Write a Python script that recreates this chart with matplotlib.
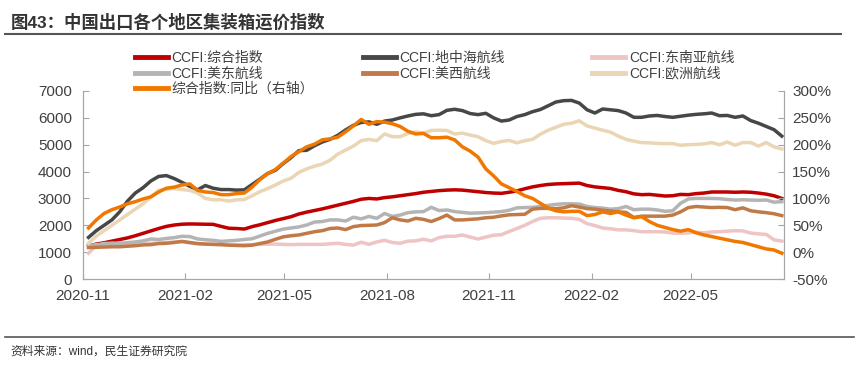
import numpy as np
import pandas as pd
import matplotlib
matplotlib.use('Agg')
import matplotlib.pyplot as plt
import matplotlib.dates as mdates
from matplotlib.ticker import FuncFormatter

plt.rcParams['font.family'] = ['Liberation Sans', 'Noto Sans CJK SC']
plt.rcParams['axes.unicode_minus'] = False

# 周度数据 2020-11-06 ~ 2022-07-22
dates = pd.date_range('2020-11-06', periods=90, freq='7D')

ccfi_all = [1230, 1300, 1350, 1410, 1470, 1530, 1610, 1700, 1790, 1880,
            1960, 2010, 2040, 2050, 2045, 2040, 2035, 1960, 1890, 1880,
            1860, 1950, 2020, 2100, 2180, 2250, 2320, 2420, 2490, 2550,
            2610, 2680, 2750, 2820, 2890, 2970, 3000, 2980, 3030, 3060,
            3100, 3140, 3180, 3230, 3260, 3290, 3310, 3320, 3310, 3280,
            3250, 3220, 3200, 3190, 3230, 3280, 3360, 3430, 3480, 3520,
            3540, 3550, 3560, 3570, 3480, 3430, 3400, 3370, 3300, 3250,
            3170, 3140, 3150, 3120, 3090, 3100, 3150, 3140, 3180, 3200,
            3240, 3240, 3240, 3230, 3240, 3230, 3200, 3160, 3100, 3000]

ccfi_med = [1550, 1800, 2000, 2200, 2500, 2900, 3200, 3400, 3650, 3820,
            3850, 3740, 3600, 3450, 3320, 3480, 3380, 3330, 3330, 3310,
            3320, 3520, 3720, 3930, 4050, 4300, 4520, 4780, 4790, 4960,
            5100, 5200, 5350, 5550, 5720, 5830, 5850, 5760, 5880, 5920,
            6000, 6070, 6130, 6150, 6080, 6120, 6280, 6320, 6270, 6160,
            6120, 6170, 6000, 5880, 5920, 6050, 6120, 6230, 6310, 6450,
            6590, 6640, 6650, 6550, 6300, 6180, 6330, 6300, 6270, 6180,
            6020, 6020, 6070, 6090, 6050, 6020, 6060, 6100, 6130, 6150,
            6180, 6080, 6090, 6020, 6070, 5900, 5800, 5680, 5560, 5320]

ccfi_sea = [960, 1250, 1320, 1330, 1320, 1330, 1330, 1340, 1330, 1340,
            1360, 1380, 1390, 1340, 1310, 1300, 1290, 1280, 1280, 1270,
            1280, 1280, 1290, 1300, 1300, 1290, 1280, 1290, 1290, 1290,
            1290, 1310, 1330, 1290, 1260, 1370, 1290, 1380, 1440, 1360,
            1330, 1410, 1420, 1480, 1420, 1540, 1590, 1590, 1640, 1560,
            1490, 1560, 1630, 1650, 1770, 1880, 2000, 2140, 2260, 2280,
            2280, 2270, 2260, 2220, 2060, 1990, 1900, 1870, 1830, 1830,
            1800, 1760, 1760, 1760, 1750, 1710, 1700, 1720, 1740, 1720,
            1750, 1760, 1780, 1800, 1790, 1710, 1680, 1660, 1460, 1410]

ccfi_use = [1240, 1280, 1300, 1320, 1330, 1350, 1380, 1420, 1490, 1470,
            1510, 1540, 1590, 1580, 1490, 1460, 1440, 1400, 1420, 1440,
            1470, 1500, 1600, 1700, 1780, 1860, 1900, 1940, 2010, 2120,
            2140, 2200, 2200, 2160, 2300, 2240, 2330, 2260, 2440, 2330,
            2380, 2470, 2500, 2510, 2670, 2550, 2570, 2510, 2480, 2450,
            2460, 2470, 2490, 2510, 2560, 2650, 2660, 2670, 2700, 2740,
            2780, 2800, 2800, 2790, 2700, 2660, 2640, 2600, 2620, 2700,
            2580, 2600, 2600, 2570, 2520, 2540, 2820, 2980, 3000, 3000,
            3000, 2990, 2960, 2940, 2950, 2940, 2930, 2940, 2860, 2880]

ccfi_usw = [1170, 1180, 1190, 1200, 1200, 1220, 1240, 1270, 1280, 1320,
            1330, 1360, 1400, 1360, 1320, 1300, 1290, 1280, 1260, 1250,
            1240, 1260, 1320, 1380, 1480, 1570, 1610, 1640, 1700, 1760,
            1800, 1880, 1900, 1840, 1950, 1990, 2000, 2010, 2100, 2280,
            2200, 2160, 2260, 2220, 2140, 2250, 2380, 2200, 2200, 2220,
            2240, 2280, 2300, 2350, 2390, 2400, 2410, 2600, 2630, 2630,
            2620, 2650, 2730, 2680, 2620, 2600, 2560, 2530, 2500, 2480,
            2290, 2340, 2340, 2340, 2340, 2380, 2500, 2660, 2700, 2680,
            2660, 2670, 2660, 2580, 2650, 2540, 2500, 2470, 2430, 2360]

ccfi_eu = [1330, 1600, 1800, 2000, 2200, 2400, 2600, 2800, 3050, 3300,
           3350, 3370, 3330, 3300, 3200, 3000, 2950, 2950, 2900, 2950,
           2960, 3100, 3250, 3370, 3500, 3650, 3750, 3970, 4100, 4200,
           4280, 4420, 4650, 4800, 4950, 5150, 5200, 5150, 5400, 5300,
           5300, 5420, 5480, 5430, 5530, 5540, 5530, 5400, 5430, 5360,
           5300, 5150, 5050, 5120, 5160, 5070, 5150, 5200, 5390, 5540,
           5650, 5760, 5800, 5890, 5700, 5620, 5540, 5470, 5320, 5200,
           5130, 5080, 5070, 5050, 5040, 5040, 4980, 5000, 5010, 5030,
           5080, 5000, 5100, 4980, 5080, 5080, 4950, 5080, 4920, 4840]

# 综合指数同比 (%)
ccfi_yoy = [45, 60, 72, 79, 84, 90, 94, 99, 103, 112,
            119, 121, 125, 127, 115, 112, 111, 107, 107, 109,
            110, 121, 135, 146, 154, 166, 178, 187, 196, 201,
            209, 211, 214, 224, 235, 247, 238, 243, 242, 239,
            234, 225, 220, 221, 213, 213, 214, 209, 196, 188,
            177, 155, 142, 127, 120, 113, 105, 100, 91, 82,
            77, 75, 76, 76, 68, 70, 75, 72, 75, 69,
            64, 66, 57, 50, 46, 42, 39, 42, 36, 32,
            29, 26, 23, 20, 18, 14, 10, 6, 4, -2]

fig = plt.figure(figsize=(8.58, 3.65), dpi=100)
ax = fig.add_axes([0.0967, 0.2356, 0.8171, 0.5151])
ax2 = ax.twinx()

lw = 2.5
l_all, = ax.plot(dates, ccfi_all, color='#C00000', lw=lw, label='CCFI:综合指数')
l_med, = ax.plot(dates, ccfi_med, color='#474747', lw=lw, label='CCFI:地中海航线')
l_sea, = ax.plot(dates, ccfi_sea, color='#EEC4C4', lw=lw, label='CCFI:东南亚航线')
l_use, = ax.plot(dates, ccfi_use, color='#B4B4B4', lw=lw, label='CCFI:美东航线')
l_usw, = ax.plot(dates, ccfi_usw, color='#C07A48', lw=lw, label='CCFI:美西航线')
l_eu, = ax.plot(dates, ccfi_eu, color='#EAD5B5', lw=lw, label='CCFI:欧洲航线')
l_yoy, = ax2.plot(dates, ccfi_yoy, color='#F07800', lw=lw, label='综合指数:同比（右轴）')

ax.set_ylim(0, 7000)
ax.set_yticks(np.arange(0, 7001, 1000))
ax2.set_ylim(-50, 300)
ax2.set_yticks(np.arange(-50, 301, 50))
ax2.yaxis.set_major_formatter(FuncFormatter(lambda v, p: '%d%%' % v))

ax.set_xlim(pd.Timestamp('2020-11-01'), pd.Timestamp('2022-07-24'))
ax.xaxis.set_major_locator(mdates.MonthLocator(bymonth=[2, 5, 8, 11]))
ax.xaxis.set_major_formatter(mdates.DateFormatter('%Y-%m'))

spine_c = '#A6A6A6'
for a in (ax, ax2):
    a.spines['top'].set_visible(False)
    for s in ('left', 'right', 'bottom'):
        a.spines[s].set_color(spine_c)
    a.tick_params(direction='in', length=4, color=spine_c, labelcolor='#404040', labelsize=11)
ax.tick_params(axis='x', pad=7)
ax.tick_params(axis='y', pad=8)
ax2.tick_params(axis='y', pad=6)

# 图例 三列
cols = [([l_all, l_use, l_yoy], 0.157), ([l_med, l_usw], 0.423), ([l_sea, l_eu], 0.690)]
for hs, x0 in cols:
    leg = fig.legend(handles=hs, loc='upper left', bbox_to_anchor=(x0, 0.86),
                     frameon=False, fontsize=10, handlelength=2.4, handletextpad=0.25,
                     labelspacing=0.1, borderpad=0, borderaxespad=0)
    for t in leg.get_texts():
        t.set_color('#404040')
    for h in leg.get_lines():
        h.set_linewidth(3.5)

fig.text(0.012, 0.94, '图43：中国出口各个地区集装箱运价指数', fontsize=12.5, fontweight='bold',
         color='#333333', va='center', ha='left')
fig.add_artist(plt.Line2D([0.006, 0.98], [0.908, 0.908], color='#555555', lw=1.5))
fig.add_artist(plt.Line2D([0.006, 0.995], [0.077, 0.077], color='#555555', lw=1.2))
fig.text(0.012, 0.036, '资料来源：wind，民生证券研究院', fontsize=8.5, color='#333333',
         va='center', ha='left')

fig.savefig('out.png', dpi=100)
